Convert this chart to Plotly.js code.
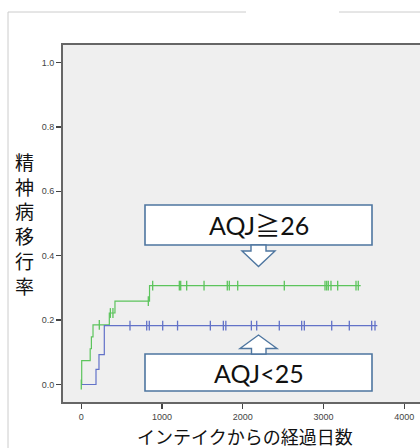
<!DOCTYPE html>
<html>
<head>
<meta charset="utf-8">
<script src="https://cdn.plot.ly/plotly-3.0.1.min.js"></script>
<style>
html,body{margin:0;padding:0;overflow:hidden;background:#fff;}
#chart{width:440px;height:448px;}
</style>
</head>
<body>
<div id="chart"></div>
<script>
// ---- data ----
var greenTimes  = [0, 5, 110, 125, 145, 347, 417, 845, 3460];
var greenLevels = [0, 0.074, 0.111, 0.148, 0.185, 0.222, 0.259, 0.307, 0.307];
var greenCensor = [0, 223, 360, 392, 830, 884, 1214, 1231, 1305, 1520, 1808, 1833, 1937, 2514, 3018, 3039, 3059, 3092, 3175, 3402, 3430];

var blueTimes  = [0, 182, 219, 285, 3666];
var blueLevels = [0, 0.047, 0.093, 0.183, 0.183];
var blueCensor = [603, 810, 842, 1008, 1192, 1598, 1759, 1790, 2106, 2172, 2452, 2729, 2762, 3101, 3319, 3596, 3637];

var xTicks = [0, 1000, 2000, 3000, 4000];
var yTicks = [0.0, 0.2, 0.4, 0.6, 0.8, 1.0];
var yTickText = ['0.0', '0.2', '0.4', '0.6', '0.8', '1.0'];
var yTitleChars = ['精', '神', '病', '移', '行', '率'];
var xTitle = 'インテイクからの経過日数';
var labelHigh = 'AQJ≧26';
var labelLow = 'AQJ<25';

// ---- helpers ----
function levelAt(times, levels, t) {
  var v = levels[0];
  for (var i = 0; i < times.length; i++) { if (times[i] <= t) v = levels[i]; }
  return v;
}
var GREEN = '#5cc45c', BLUE = '#6272c8';

// plot area in pixels: left 63, right 425, top 45, bottom 402
var PL = 63, PR = 425, PT = 45, PB = 402;
function px(x) { return (x - PL) / (PR - PL); }
function py(y) { return (PB - y) / (PB - PT); }

var traces = [
  {x: greenTimes, y: greenLevels, mode: 'lines', line: {shape: 'hv', color: GREEN, width: 1.2}, hoverinfo: 'skip', showlegend: false},
  {x: blueTimes, y: blueLevels, mode: 'lines', line: {shape: 'hv', color: BLUE, width: 1.2}, hoverinfo: 'skip', showlegend: false},
  {x: greenCensor, y: greenCensor.map(function (t) { return levelAt(greenTimes, greenLevels, t); }),
   mode: 'markers', marker: {symbol: 'line-ns', size: 7, line: {color: GREEN, width: 1.3}}, showlegend: false},
  {x: blueCensor, y: blueCensor.map(function (t) { return levelAt(blueTimes, blueLevels, t); }),
   mode: 'markers', marker: {symbol: 'line-ns', size: 7, line: {color: BLUE, width: 1.3}}, showlegend: false}
];

var BOXC = '#4e76a0';
function rect(x0, y0, x1, y1) {
  return {type: 'rect', xref: 'paper', yref: 'paper', x0: px(x0), x1: px(x1), y0: py(y1), y1: py(y0),
          fillcolor: '#ffffff', line: {color: BOXC, width: 1.6}, layer: 'above'};
}
function pathPx(pts) {
  var d = pts.map(function (p, i) { return (i ? 'L' : 'M') + px(p[0]) + ',' + py(p[1]); }).join(' ') + ' Z';
  return {type: 'path', xref: 'paper', yref: 'paper', path: d, fillcolor: '#ffffff', line: {color: BOXC, width: 1.4}, layer: 'above'};
}

var shapes = [
  // outer light frame
  {type: 'line', xref: 'paper', yref: 'paper', x0: px(8), x1: px(246), y0: py(12), y1: py(12), line: {color: '#cccccc', width: 1}},
  {type: 'line', xref: 'paper', yref: 'paper', x0: px(339), x1: px(440), y0: py(12), y1: py(12), line: {color: '#cccccc', width: 1}},
  {type: 'line', xref: 'paper', yref: 'paper', x0: px(8), x1: px(8), y0: py(12), y1: py(448), line: {color: '#cccccc', width: 1}},
  rect(145, 205, 372, 245),
  pathPx([[251, 245], [266, 245], [266, 251], [275, 251], [258.5, 266.5], [242, 251], [251, 251]]),
  rect(145, 354, 372, 391),
  pathPx([[251.5, 354], [266, 354], [266, 348.5], [277, 348.5], [258.5, 335], [240, 348.5], [251.5, 348.5]])
];

var annotations = [
  {xref: 'paper', yref: 'paper', x: px(258.5), y: py(225), text: labelHigh, showarrow: false,
   font: {family: 'Lato, "Noto Sans CJK JP", sans-serif', size: 25, color: '#111'}, xanchor: 'center', yanchor: 'middle'},
  {xref: 'paper', yref: 'paper', x: px(258.5), y: py(373), text: labelLow, showarrow: false,
   font: {family: 'Lato, "Noto Sans CJK JP", sans-serif', size: 25, color: '#111'}, xanchor: 'center', yanchor: 'middle'},
  {xref: 'paper', yref: 'paper', x: px(24), y: py(223), text: yTitleChars.join('<br>'), showarrow: false,
   font: {family: '"Noto Sans CJK JP", sans-serif', size: 19, color: '#111'}, xanchor: 'center', yanchor: 'middle'},
  {xref: 'paper', yref: 'paper', x: px(245), y: py(435.5), text: xTitle, showarrow: false,
   font: {family: '"Noto Sans CJK JP", sans-serif', size: 18, color: '#111'}, xanchor: 'center', yanchor: 'middle'}
];

var x0px = 81.3, x4000px = 404.3;
var perUnit = (x4000px - x0px) / 4000;
var layout = {
  width: 440, height: 448,
  margin: {l: PL, r: 440 - PR, t: PT, b: 448 - PB},
  paper_bgcolor: '#ffffff', plot_bgcolor: '#efefef',
  xaxis: {range: [(PL - x0px) / perUnit, (PR - x0px) / perUnit], tickvals: xTicks, ticktext: xTicks.map(String),
          ticks: 'outside', ticklen: 5, tickwidth: 1.3, tickcolor: '#444', showgrid: false, zeroline: false,
          showline: true, linecolor: '#666', linewidth: 2, mirror: true,
          tickfont: {family: 'Liberation Sans, Arial, sans-serif', size: 9, color: '#444'}},
  yaxis: {range: [-0.0543, 1.0543], tickvals: yTicks, ticktext: yTickText,
          ticks: 'outside', ticklen: 5, tickwidth: 1.3, tickcolor: '#444', showgrid: false, zeroline: false,
          showline: true, linecolor: '#666', linewidth: 2, mirror: true,
          tickfont: {family: 'Liberation Sans, Arial, sans-serif', size: 9, color: '#444'}},
  shapes: shapes, annotations: annotations, showlegend: false
};
Plotly.newPlot('chart', traces, layout, {staticPlot: true, displayModeBar: false});
</script>
</body>
</html>
